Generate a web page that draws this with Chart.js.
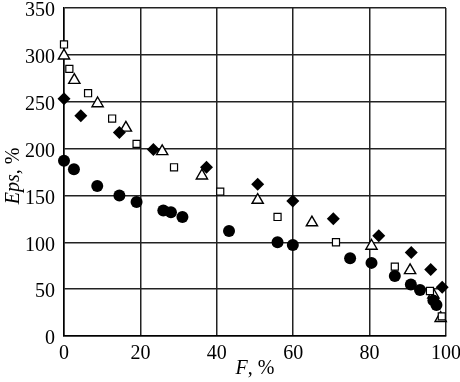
<!DOCTYPE html>
<html>
<head>
<meta charset="utf-8">
<script src="https://cdn.jsdelivr.net/npm/chart.js@4.4.1/dist/chart.umd.min.js"></script>
<style>
  html, body { margin: 0; padding: 0; background: #fff; }
  #wrap { width: 460px; height: 382px; }
</style>
</head>
<body>
<div id="wrap"><canvas id="grafico"></canvas></div>
<script>
// series (F in %, Eps in %)
const circleF   = [0, 2.6, 8.7, 14.5, 19, 26, 28, 31, 43.2, 55.9, 59.9, 74.9, 80.5, 86.6, 90.8, 93.2, 96.7, 97.5];
const circleEps = [187, 178, 160, 150, 143, 134, 132, 127, 112, 100, 97, 83, 78, 64, 55, 49, 38, 33];

const diamondF   = [0, 4.4, 14.5, 23.4, 37.3, 50.7, 59.9, 70.5, 82.4, 90.9, 96, 99];
const diamondEps = [253, 235, 217, 199, 180, 162, 144, 125, 107, 89, 71, 52];

const squareF   = [0, 1.4, 6.3, 12.6, 19, 28.8, 40.9, 55.9, 71.2, 86.6, 95.8, 98.9];
const squareEps = [311, 285, 259, 232, 205, 180, 154, 127, 100, 74, 48, 21];

const triangleF   = [0, 2.7, 8.8, 16.2, 25.7, 36.1, 50.7, 64.9, 80.5, 90.6, 96.7, 98.6];
const triangleEps = [299, 273, 248, 222, 197, 171, 145, 121, 96, 70, 44, 19];

const xTicks = [0, 20, 40, 60, 80, 100];
const yTicks = [0, 50, 100, 150, 200, 250, 300, 350];

const FONT = "'Liberation Serif', 'DejaVu Serif', serif";

function pontos(xs, ys) {
    return xs.map((x, i) => ({ x: x, y: ys[i] }));
}

// titles with italic variable names
const titulosEixos = {
    id: 'titulosEixos',
    afterDraw(chart) {
        const ctx = chart.ctx;
        const area = chart.chartArea;
        function partes(items, cx, cy) {
            let total = 0;
            items.forEach(p => { ctx.font = p.font; total += ctx.measureText(p.t).width; });
            let x = cx - total / 2;
            items.forEach(p => {
                ctx.font = p.font;
                ctx.fillText(p.t, x, cy);
                x += ctx.measureText(p.t).width;
            });
        }
        ctx.save();
        ctx.fillStyle = '#000';
        ctx.textBaseline = 'middle';
        ctx.textAlign = 'left';
        partes([
            { t: 'F', font: 'italic 20px ' + FONT },
            { t: ', %', font: '20px ' + FONT }
        ], (area.left + area.right) / 2, 369);
        ctx.translate(14, (area.top + area.bottom) / 2 + 4);
        ctx.rotate(-Math.PI / 2);
        partes([
            { t: 'Eps', font: 'italic 20px ' + FONT },
            { t: ', %', font: '20px ' + FONT }
        ], 0, 0);
        ctx.restore();
    }
};

const base = { showLine: false, clip: false, borderColor: '#000', pointBorderColor: '#000' };

new Chart(document.getElementById('grafico'), {
    type: 'scatter',
    data: {
        datasets: [
            Object.assign({}, base, { label: 'circle', data: pontos(circleF, circleEps),
                pointStyle: 'circle', pointRadius: 6, pointBackgroundColor: '#000', pointBorderWidth: 0 }),
            Object.assign({}, base, { label: 'diamond', data: pontos(diamondF, diamondEps),
                pointStyle: 'rectRot', pointRadius: 6.5, pointBackgroundColor: '#000', pointBorderWidth: 0 }),
            Object.assign({}, base, { label: 'square', data: pontos(squareF, squareEps),
                pointStyle: 'rect', pointRadius: 5, pointBackgroundColor: '#fff', pointBorderWidth: 1.2 }),
            Object.assign({}, base, { label: 'triangle', data: pontos(triangleF, triangleEps),
                pointStyle: 'triangle', pointRadius: 6.5, pointBackgroundColor: '#fff', pointBorderWidth: 1.4 })
        ]
    },
    options: {
        responsive: true,
        maintainAspectRatio: false,
        animation: false,
        layout: { padding: { left: 0, top: 5, right: 14, bottom: 0 } },
        plugins: { legend: { display: false }, tooltip: { enabled: false } },
        scales: {
            x: {
                type: 'linear', min: 0, max: 100,
                afterBuildTicks: s => { s.ticks = xTicks.map(v => ({ value: v })); },
                afterFit: s => { s.height = 46; s.paddingLeft = 0; s.paddingRight = 0; },
                grid: { color: '#222', lineWidth: 1.5, drawTicks: false },
                border: { display: true, color: '#000', width: 1.5 },
                ticks: { color: '#000', padding: 6, maxRotation: 0, font: { family: FONT, size: 20 } }
            },
            y: {
                type: 'linear', min: 0, max: 350,
                afterBuildTicks: s => { s.ticks = yTicks.map(v => ({ value: v })); },
                afterFit: s => { s.width = 64; s.paddingTop = 0; s.paddingBottom = 0; },
                grid: { color: '#222', lineWidth: 1.5, drawTicks: false },
                border: { display: true, color: '#000', width: 1.5 },
                ticks: { color: '#000', padding: 9, labelOffset: 3, font: { family: FONT, size: 20 } }
            }
        }
    },
    plugins: [titulosEixos]
});
</script>
</body>
</html>
